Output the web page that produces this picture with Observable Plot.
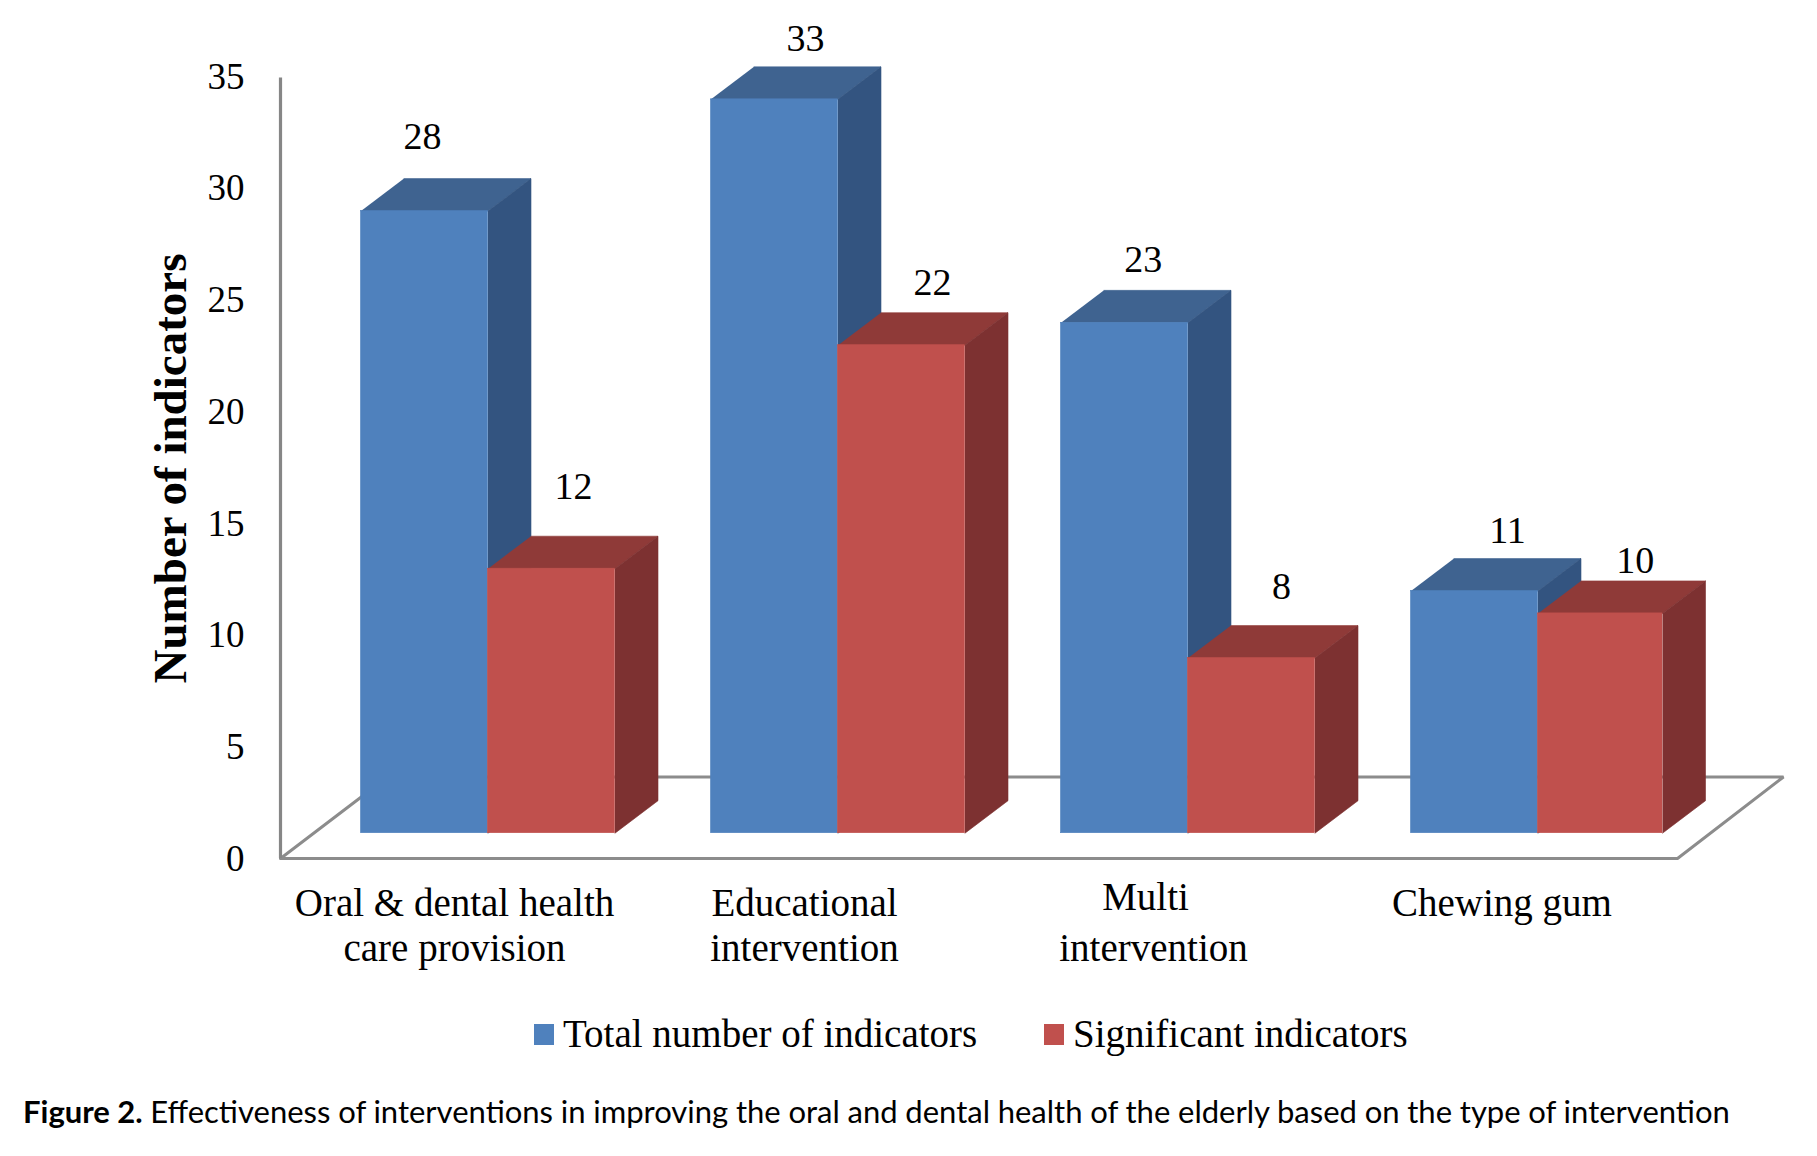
<!DOCTYPE html>
<html>
<head>
<meta charset="utf-8">
<script src="https://cdn.jsdelivr.net/npm/d3@7"></script>
<script src="https://cdn.jsdelivr.net/npm/@observablehq/plot@0.6"></script>
<style>
  html, body { margin: 0; padding: 0; background: #fff; }
  svg { display: block; }
  #legend { position: relative; height: 76px; font: 39px "Liberation Serif", serif; color: #000; }
  #legend span { position: absolute; white-space: nowrap; }
  #legend i { position: absolute; width: 20px; height: 21px; }
  #caption { position: absolute; top: 1092px; left: 23px; white-space: nowrap; font: 31px Lato, sans-serif; word-spacing: -0.2px; color: #000; }
</style>
</head>
<body>
<div id="chart"></div>
<div id="legend"></div>
<div id="caption"><b>Figure 2.</b> Effectiveness of interventions in improving the oral and dental health of the elderly based on the type of intervention</div>
<script>
const categoryLines = [
  ["Oral & dental health", "care provision"],
  ["Educational", "intervention"],
  ["Multi", "intervention"],
  ["Chewing gum"]
];
const seriesNames = ["Total number of indicators", "Significant indicators"];
const totalIndicators = [28, 33, 23, 11];
const significantIndicators = [12, 22, 8, 10];
const yTicks = [0, 5, 10, 15, 20, 25, 30, 35];

// layout, in pixels of the picture
const W = 1817, H = 1000, left = 280, groupPx = 350, zeroPx = 858, unitPx = 22.35;
const xU = px => px / groupPx;
const yU = px => px / unitPx;
const barW = xU(127), startX = xU(80.5), bottomLift = yU(25.3), topLift = yU(21.6);
const depthX = xU(43), depthY = yU(32.5);
const floorX = xU(106), floorY = yU(81.5);
const lastBarTrim = xU(2.5);
const totalNudge = [[-2, -74.6], [31, -60.8], [18.7, -63.4], [33, -60.7]];
const signifNudge = [[22, -82.2], [31, -62.7], [30, -71], [35, -52.1]];
const categoryNudge = [-1, -1, -2, -3.5];

const palette = [
  {front: "#4f81bd", side: "#335480", top: "#3f6390"},
  {front: "#c0504d", side: "#7d3131", top: "#8f3a38"}
];
const poly = (points, fill) => Plot.line(points.map(([x, y]) => ({x, y})), {x: "x", y: "y", fill, stroke: fill, strokeWidth: 0.6});

const bars = [];
const labels = [];
[totalIndicators, significantIndicators].forEach((values, s) => {
  values.forEach((v, i) => {
    const x0 = i + startX + s * barW;
    const x1 = x0 + barW - (s === 1 && i === 3 ? lastBarTrim : 0);
    const y0 = bottomLift, y1 = topLift + v;
    const c = palette[s];
    bars.push({i, s, parts: [
      poly([[x0, y1], [x1, y1], [x1 + depthX, y1 + depthY], [x0 + depthX, y1 + depthY]], c.top),
      poly([[x1, y0], [x1 + depthX, y0 + depthY], [x1 + depthX, y1 + depthY], [x1, y1]], c.side),
      Plot.rect([{x0, x1, y0, y1}], {x1: "x0", x2: "x1", y1: "y0", y2: "y1", fill: c.front, stroke: c.front, strokeWidth: 0.6})
    ]});
    const [nx, ny] = (s ? signifNudge : totalNudge)[i];
    labels.push({text: String(v), x: (x0 + x1) / 2 + xU(nx), y: y1 - yU(ny)});
  });
});
bars.sort((a, b) => a.i - b.i || a.s - b.s);

const catLabels = [];
categoryLines.forEach((lines, i) => lines.forEach((text, l) => {
  const odd = i === 2 && l === 0;
  catLabels.push({text, x: i + 0.5 + xU(categoryNudge[i]) - (odd ? xU(8) : 0), y: -yU(l === 0 ? (odd ? 38.6 : 45) : 89.7)});
}));

const floorEnd = 4 - xU(3);
const floor = [[0, 0], [floorEnd, 0], [floorEnd + floorX, floorY], [xU(107), floorY], [0, 0]].map(([x, y]) => ({x, y}));
const serif = "Liberation Serif";

const plot = Plot.plot({
  width: W, height: H,
  marginLeft: left, marginRight: W - left - 4 * groupPx,
  marginTop: zeroPx - 35 * unitPx, marginBottom: H - zeroPx,
  x: {domain: [0, 4], axis: null},
  y: {domain: [0, 35], axis: null},
  style: {background: "#fff", color: "#000", fontFamily: serif},
  marks: [
    Plot.line(floor, {x: "x", y: "y", stroke: "#8c8c8c", strokeWidth: 3, strokeLinejoin: "miter"}),
    Plot.ruleX([0], {y1: 0, y2: 34.92, stroke: "#868686", strokeWidth: 3.2}),
    Plot.axisY({ticks: yTicks, tickSize: 0, tickPadding: 36, fontSize: 37, label: null, anchor: "left", fontFamily: serif, dy: 0.5}),
    ...bars.flatMap(b => b.parts),
    Plot.text(labels, {x: "x", y: "y", text: "text", fontSize: 38, fill: "#000", lineAnchor: "middle"}),
    Plot.text(catLabels, {x: "x", y: "y", text: "text", fontSize: 39, fill: "#000", lineAnchor: "middle"}),
    Plot.text(["Number of indicators"], {x: xU(170 - left), y: yU(zeroPx - 468), text: d => d, rotate: -90, fontSize: 47, fontWeight: "bold", fill: "#000", lineAnchor: "middle"})
  ]
});
document.getElementById("chart").append(plot);

// legend
const legend = document.getElementById("legend");
const items = [
  {swatch: 534, text: 563, color: palette[0].front},
  {swatch: 1044, text: 1073, color: palette[1].front}
];
seriesNames.forEach((name, k) => {
  const sw = document.createElement("i");
  sw.style.cssText = `left:${items[k].swatch}px;top:24px;background:${items[k].color}`;
  const t = document.createElement("span");
  t.style.cssText = `left:${items[k].text}px;top:11px`;
  t.textContent = name;
  legend.append(sw, t);
});
</script>
</body>
</html>
